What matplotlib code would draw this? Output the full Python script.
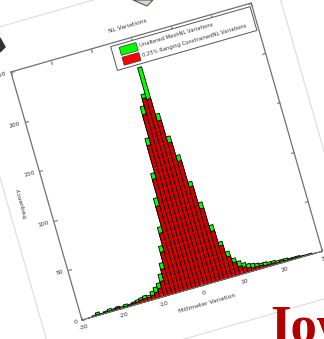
"""Rotated MATLAB-style histogram on a slide: NL variations, unaltered vs constrained."""
import matplotlib
matplotlib.use("Agg")
import matplotlib.pyplot as plt
from matplotlib.transforms import Affine2D
from matplotlib.patches import Rectangle, Polygon
import mpl_toolkits.axisartist.floating_axes as floating_axes
from mpl_toolkits.axisartist.grid_finder import FixedLocator, DictFormatter

# ---- data (1-unit bins) ----
bin_centers = list(range(-28, 29))
unaltered = [0, 1, 3, 1, 2, 3, 2, 3, 2, 3, 2, 3, 4, 5, 6, 5, 8, 11, 14, 22,
             32, 48, 66, 94, 118, 152, 183, 194, 220, 172, 148, 128, 100, 78,
             54, 36, 25, 17, 13, 10, 8, 7, 6, 5, 5, 4, 4, 3, 3, 3, 2, 2, 2, 1,
             1, 1, 0]
constrained = [0, 0, 1, 0, 1, 1, 1, 2, 1, 1, 1, 2, 2, 3, 3, 3, 4, 6, 9, 15,
               26, 42, 60, 86, 112, 145, 175, 190, 188, 165, 142, 122, 95, 72,
               48, 32, 20, 13, 8, 6, 4, 3, 3, 3, 2, 2, 2, 1, 2, 1, 1, 1, 1, 1,
               0, 0, 0]
x_ticks = [-30, -20, -10, 0, 10, 20, 30]
y_ticks = [0, 50, 100, 150, 200, 250]
title = "NL Variations"
legend_labels = ["Unaltered MeshNL Variations",
                 "0.25% Ranging ConstrainedNL Variations"]
legend_colors = ["#00ff00", "#ff0000"]
x_label = "Millimeter Variation"
y_label = "Frequency"

# ---- geometry (pixels) ----
DPI = 100
FIG_W, FIG_H = 324, 339
ANGLE = 16
AX_W, AX_H = 250, 258
ORIGIN = (82, FIG_H - 320)   # bottom-left corner of the frame, px from bottom

fig = plt.figure(figsize=(FIG_W / DPI, FIG_H / DPI), dpi=DPI)
fig.patch.set_facecolor("white")

tr = Affine2D().scale(AX_W / 60, AX_H / 250).rotate_deg(ANGLE)
gh = floating_axes.GridHelperCurveLinear(
    tr, extremes=(-30, 30, 0, 250),
    grid_locator1=FixedLocator(x_ticks), grid_locator2=FixedLocator(y_ticks),
    tick_formatter1=DictFormatter({v: str(v) for v in x_ticks}),
    tick_formatter2=DictFormatter({v: str(v) for v in y_ticks}))

corners = tr.transform([(-30, 0), (30, 0), (-30, 250), (30, 250)])
off = (ORIGIN[0] - corners[0][0], ORIGIN[1] - corners[0][1])
xmin, ymin = corners.min(0) + off
xmax, ymax = corners.max(0) + off
cx, cy = (xmin + xmax) / 2, (ymin + ymax) / 2
w, h = (xmax - xmin) * 1.02, (ymax - ymin) * 1.02
ax = fig.add_axes([(cx - w / 2) / FIG_W, (cy - h / 2) / FIG_H, w / FIG_W, h / FIG_H],
                  axes_class=floating_axes.FloatingAxes, grid_helper=gh)
aux = ax.get_aux_axes(tr)

for side in ["left", "right", "top", "bottom"]:
    a = ax.axis[side]
    a.line.set_color("#707070")
    a.line.set_linewidth(0.9)
    a.major_ticks.set_ticksize(2.5)
    a.major_ticks.set_color("#707070")
    a.major_ticklabels.set_fontsize(4.3)
    a.major_ticklabels.set_color("#333333")
for side in ["right", "top"]:
    ax.axis[side].major_ticklabels.set_visible(False)
    ax.axis[side].label.set_visible(False)
ax.axis["bottom"].label.set_text(x_label)
ax.axis["bottom"].label.set_fontsize(4.3)
ax.axis["bottom"].label.set_color("#333333")
ax.axis["left"].label.set_text(y_label)
ax.axis["left"].label.set_fontsize(4.3)
ax.axis["left"].label.set_color("#333333")

aux.bar(bin_centers, unaltered, width=1, color=legend_colors[0],
        edgecolor="black", linewidth=0.6)
aux.bar(bin_centers, constrained, width=1, color="#d40000",
        edgecolor="black", linewidth=0.6)

# rotated title + legend drawn in data space so they turn with the frame
aux.text(0, 259, title, rotation=ANGLE, rotation_mode="anchor",
         ha="center", va="bottom", fontsize=4.3, color="#333333")
aux.add_patch(Rectangle((-5.3, 223), 34.8, 24, facecolor="white",
                        edgecolor="#555555", linewidth=0.7, clip_on=False, zorder=5))
for i, (lab, col) in enumerate(zip(legend_labels, legend_colors)):
    yy = 236 - i * 10
    aux.add_patch(Rectangle((-3.4, yy), 4.2, 8, facecolor=col, edgecolor="#333333",
                            linewidth=0.5, clip_on=False, zorder=6))
    aux.text(1.4, yy + 4, lab, rotation=ANGLE, rotation_mode="anchor",
             ha="left", va="center", fontsize=3.8, color="#333333", zorder=7)

# faint border of the pasted chart image
aux.add_patch(Rectangle((-39.5, -45), 76.5, 340, fill=False, edgecolor="#dcdcdc",
                        linewidth=0.8, clip_on=False, zorder=0))

# slide decorations
px = lambda pts: [(x / FIG_W, (FIG_H - y) / FIG_H) for x, y in pts]
fig.patches.append(Polygon(px([(133, 0), (147, 6), (153, 0)]), closed=True,
                           facecolor="#dcd9c8", edgecolor="#555555", linewidth=0.8,
                           transform=fig.transFigure))
fig.patches.append(Polygon(px([(0, 38), (5, 47), (0, 52)]), closed=True,
                           facecolor="#333333", edgecolor="#333333",
                           transform=fig.transFigure))
fig.text(270 / FIG_W, -3 / FIG_H, "Iowa", fontsize=38, fontweight="bold",
         family="Liberation Serif", color="#b00000", ha="left", va="baseline")

fig.savefig("out.png", dpi=DPI, facecolor="white")
